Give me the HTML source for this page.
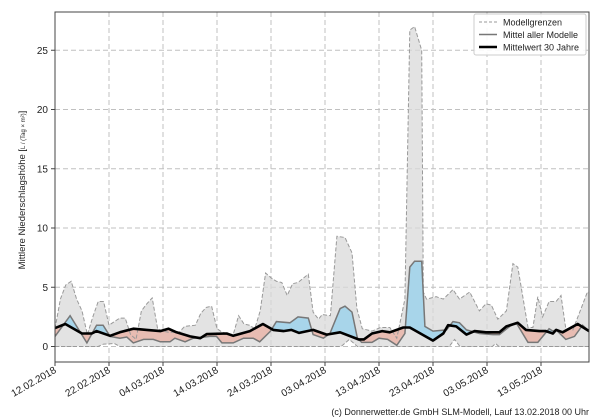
<!DOCTYPE html>
<html><head><meta charset="utf-8"><style>
html,body{margin:0;padding:0;background:#fff}
svg{display:block;font-family:"Liberation Sans","DejaVu Sans",sans-serif}
</style></head><body>
<svg id="s" width="600" height="420" xmlns="http://www.w3.org/2000/svg"></svg>
<script>
const X0=55,PX=5.4,Y0=346.5,PY=11.85;
const X=d=>X0+d*PX, Y=v=>Y0-v*PY;
const up=[[0,1.5],[1,4],[2,5.2],[3,5.5],[4,4],[5,3],[6,1],[7,2.5],[8,3.8],[9,3.8],[10,1.8],[11,2.1],[12,2.4],[13,2.4],[14,1],[15,0.6],[16,3],[17,3.6],[18,4.1],[19,1.5],[20,1.3],[21,1.2],[23,1.2],[24,1.7],[26,1.8],[27,2.8],[28,3.3],[29,3.4],[30,1.5],[31,1.2],[33,1.0],[34,2.6],[35,1.9],[36,1.8],[37,1.5],[38,3],[39,6.2],[40,5.8],[41,5.5],[42,5.4],[43,4.3],[44,5.3],[45,5.4],[46.9,6.1],[47.8,2.9],[48.8,2.3],[49.5,2.7],[51,2.6],[52.2,9.3],[53.7,9.2],[55,7.9],[55.9,3.2],[56.9,1.5],[58.7,1.3],[60.3,1.6],[62,1.6],[63.3,0.7],[64.8,4],[65.7,26.7],[66.6,27],[67.9,25],[68.2,4.6],[68.8,4],[70.6,4.2],[71.9,4],[73.7,4.8],[74.9,4],[76.8,4.6],[78.6,3],[79.8,3.6],[80.8,3.5],[82,2.3],[83.6,3],[84.8,7],[85.7,6.7],[87.6,1.6],[88.5,1.6],[89.4,4.2],[90.3,2.5],[91.5,3.8],[92.8,3.8],[93.7,4.3],[94.6,1.5],[95.9,1.4],[98.6,4.6],[98.9,4.6]];
const lo=[[0,0],[8,0],[9,0.2],[11,0.25],[12,0],[53,0],[54.5,0.6],[56,0],[73,0],[74,0.6],[75,0],[81,0],[81.6,0.25],[82.2,0],[98.9,0]];
const mn=[[0,0.85],[2.8,2.6],[5.9,0.3],[7.7,1.8],[8.9,1.8],[10.2,0.85],[12,0.7],[13.3,0.8],[14.5,0.3],[16.4,0.6],[18.2,0.6],[19.5,0.4],[21.3,0.4],[22.2,0.7],[24.1,0.4],[25.6,0.7],[28.7,0.85],[29.9,0.85],[30.9,0.3],[33,0.3],[34.9,0.7],[36.7,0.7],[37.9,0.4],[39.9,1.3],[41,2.1],[43.5,2.0],[45,2.5],[46.9,2.4],[47.8,1.0],[49.7,0.7],[50.9,1.1],[52.8,3.2],[53.7,3.4],[55,2.9],[56,0.7],[56.8,0.35],[58.7,0.35],[60,0.7],[61.6,0.6],[63.3,0.1],[64.8,1.1],[65.7,6.7],[66.6,7.2],[67.9,7.2],[68.5,1.7],[70,1.3],[72.5,1.4],[73.7,2.1],[74.9,2.0],[76.2,1.4],[78.6,1.1],[81.1,1.0],[82.3,1.0],[84.2,1.7],[85.4,2.0],[87.6,0.35],[89.4,0.35],[90.6,1.0],[91.5,1.5],[92.2,1.3],[92.8,1.4],[94.6,0.6],[96.2,0.85],[97.7,1.8],[98.9,1.3]];
const cl=[[0,1.55],[1.9,1.9],[5,1.1],[6.8,1.1],[7.7,1.3],[10.2,0.9],[12,1.2],[14.5,1.5],[17,1.4],[19.5,1.3],[21,1.5],[22.5,1.2],[25,0.85],[26.9,0.7],[28.1,1.05],[31.8,1.1],[33,0.9],[36.1,1.3],[38.5,1.9],[40.4,1.4],[42.3,1.3],[43.8,1.4],[45.2,1.15],[47.8,1.4],[50.3,1.0],[52.8,1.2],[56.2,0.6],[57.2,0.6],[58.7,1.1],[60.6,1.3],[62,1.2],[64.5,1.6],[65.7,1.6],[70,0.5],[71.9,1.1],[72.8,1.8],[74.3,1.7],[76.2,1.0],[77.7,1.3],[79.8,1.2],[82.3,1.2],[83.6,1.7],[85.7,2.0],[87.2,1.4],[89.7,1.3],[90.9,1.3],[92.2,1.1],[92.8,1.4],[94,1.2],[96.8,1.9],[98.9,1.3]];
const pts=a=>a.map(p=>X(p[0]).toFixed(1)+','+Y(p[1]).toFixed(1)).join(' ');
const rev=a=>a.slice().reverse();
let h='';
h+='<defs><clipPath id="plot"><rect x="55" y="12" width="534" height="350"/></clipPath>';
h+='<clipPath id="ab"><polygon points="'+pts(cl)+' '+X(98.9)+',0 '+X(0)+',0"/></clipPath>';
h+='<clipPath id="be"><polygon points="'+pts(cl)+' '+X(98.9)+',420 '+X(0)+',420"/></clipPath></defs>';
const yt=[0,5,10,15,20,25];
yt.forEach(v=>{h+='<line x1="55" x2="589" y1="'+Y(v)+'" y2="'+Y(v)+'" stroke="#c0c0c0" stroke-dasharray="5,3"/>';});
const xl=['12.02.2018','22.02.2018','04.03.2018','14.03.2018','24.03.2018','03.04.2018','13.04.2018','23.04.2018','03.05.2018','13.05.2018'];
xl.forEach((t,i)=>{const x=X(i*10);h+='<line x1="'+x+'" x2="'+x+'" y1="12" y2="362" stroke="#c0c0c0" stroke-dasharray="5,3"/>';});
h+='<g clip-path="url(#plot)">';
h+='<polygon points="'+pts(up)+' '+pts(rev(lo))+'" fill="#d9d9d9" fill-opacity="0.75"/>';
const band=pts(mn)+' '+pts(rev(cl));
h+='<polygon points="'+band+'" fill="#a8d5ea" clip-path="url(#ab)"/>';
h+='<polygon points="'+band+'" fill="#e8bcb2" clip-path="url(#be)"/>';
h+='<polyline points="'+pts(up)+'" fill="none" stroke="#999" stroke-width="1" stroke-dasharray="4,2"/>';
h+='<polyline points="'+pts(lo)+'" fill="none" stroke="#999" stroke-width="1" stroke-dasharray="4,2"/>';
h+='<polyline points="'+pts(mn)+'" fill="none" stroke="#777" stroke-width="1.5"/>';
h+='<polyline points="'+pts(cl)+'" fill="none" stroke="#000" stroke-width="2.6" stroke-linejoin="round"/>';
h+='</g>';
h+='<rect x="55" y="12" width="534" height="350" fill="none" stroke="#444" stroke-width="1"/>';
yt.forEach(v=>{h+='<line x1="51" x2="55" y1="'+Y(v)+'" y2="'+Y(v)+'" stroke="#444"/><text x="48" y="'+(Y(v)+3.5)+'" font-size="10" text-anchor="end" fill="#222">'+v+'</text>';});
xl.forEach((t,i)=>{const x=X(i*10);h+='<line x1="'+x+'" x2="'+x+'" y1="362" y2="366" stroke="#444"/><text transform="translate('+(x+2)+',372) rotate(-30)" font-size="10" text-anchor="end" fill="#222">'+t+'</text>';});
h+='<text transform="translate(25,190) rotate(-90)" font-size="9.5" text-anchor="middle" fill="#222">Mittlere Niederschlagshöhe [<tspan font-size="6">L / (Tag × m²)</tspan>]</text>';
h+='<rect x="474" y="14" width="112" height="41" rx="2" fill="#fff" fill-opacity="0.9" stroke="#ccc"/>';
h+='<line x1="479" x2="497" y1="22" y2="22" stroke="#999" stroke-dasharray="3,2"/><text x="503" y="25.5" font-size="9" fill="#222">Modellgrenzen</text>';
h+='<line x1="479" x2="497" y1="34.5" y2="34.5" stroke="#777" stroke-width="1.5"/><text x="503" y="38" font-size="9" fill="#222">Mittel aller Modelle</text>';
h+='<line x1="479" x2="497" y1="47" y2="47" stroke="#000" stroke-width="2.6"/><text x="503" y="50.5" font-size="9" fill="#222">Mittelwert 30 Jahre</text>';
h+='<text x="589" y="415" font-size="9" text-anchor="end" fill="#222">(c) Donnerwetter.de GmbH SLM-Modell, Lauf 13.02.2018 00 Uhr</text>';
document.getElementById('s').innerHTML=h;
</script>
</body></html>
